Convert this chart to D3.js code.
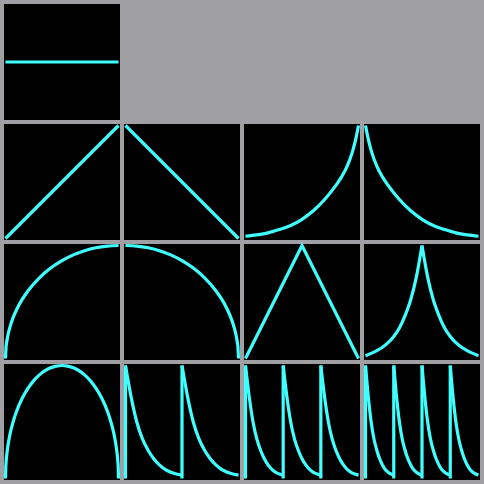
<!DOCTYPE html>
<html>
<head>
<meta charset="utf-8">
<script src="https://cdn.jsdelivr.net/npm/d3@7"></script>
<style>
  html, body { margin: 0; padding: 0; background: #a0a0a4; }
  svg { display: block; }
</style>
</head>
<body>
<script>
// ---- data (x in [0,1], y in [0,1]) ----
const constLevel = [0.5, 0.5];
const rampUp = [0, 1];
const rampDown = [1, 0];
const triangle = [0, 1, 0];
// exponential decay: sample positions and values
const decayT = [0, 0.02, 0.05, 0.1, 0.15, 0.2, 0.3, 0.4, 0.5, 0.6, 0.7, 0.8, 0.9, 1];
const decayV = [1, 0.90, 0.78, 0.64, 0.545, 0.47, 0.345, 0.245, 0.17, 0.115, 0.08, 0.05, 0.032, 0.02];
// two-sided peak, one half, from centre outward, t = 0 .. 1 step 0.1
const peakCurve = [1, 0.72, 0.52, 0.38, 0.27, 0.195, 0.14, 0.10, 0.07, 0.045, 0.025];
// sawtooth tooth decay, t = 0 .. 1 step 0.1
const toothCurve = [1, 0.72, 0.50, 0.35, 0.25, 0.175, 0.12, 0.08, 0.055, 0.04, 0.03];
// rising quarter arc: sample positions and values
const arcX = [0, 0.005, 0.01, 0.02, 0.04, 0.07, 0.1, 0.15, 0.2, 0.3, 0.4, 0.5, 0.6, 0.7, 0.8, 0.9, 1];
const arcV = [0, 0.1, 0.141, 0.199, 0.28, 0.368, 0.436, 0.527, 0.6, 0.714, 0.8, 0.866, 0.917, 0.954, 0.98, 0.995, 1];
const teethCounts = [2, 3, 4];

// ---- layout ----
const W = 484, H = 484, pitch = 120, cell = 116, border = 4, inset = 1.5;
const bg = "#a0a0a4", fg = "#40ffff";

const svg = d3.select("body").append("svg").attr("width", W).attr("height", H);
svg.append("rect").attr("width", W).attr("height", H).attr("fill", bg);

const pts = (arr, x0 = 0, x1 = 1) => arr.map((v, i) => [x0 + (x1 - x0) * i / (arr.length - 1), v]);
const ptsXY = (xs, vs, x0 = 0, x1 = 1) => xs.map((t, i) => [x0 + (x1 - x0) * t, vs[i]]);
const mirror = (p, x0, x1) => p.map(([px, v]) => [x0 + x1 - px, v]).reverse();

const cells = [
  {r: 0, c: 0, kind: "const"},
  {r: 1, c: 0, kind: "rampUp"},
  {r: 1, c: 1, kind: "rampDown"},
  {r: 1, c: 2, kind: "rise"},
  {r: 1, c: 3, kind: "decay"},
  {r: 2, c: 0, kind: "arcUp"},
  {r: 2, c: 1, kind: "arcDown"},
  {r: 2, c: 2, kind: "triangle"},
  {r: 2, c: 3, kind: "peak"},
  {r: 3, c: 0, kind: "semi"},
  {r: 3, c: 1, kind: "saw", n: teethCounts[0]},
  {r: 3, c: 2, kind: "saw", n: teethCounts[1]},
  {r: 3, c: 3, kind: "saw", n: teethCounts[2]},
];

cells.forEach(d => {
  const x0 = border + pitch * d.c, y0 = border + pitch * d.r;
  const g = svg.append("g");
  g.append("rect").attr("x", x0).attr("y", y0).attr("width", cell).attr("height", cell).attr("fill", "#000");
  const x = d3.scaleLinear().domain([0, 1]).range([x0 + inset, x0 + cell - inset]);
  const y = d3.scaleLinear().domain([0, 1]).range([y0 + cell - inset, y0 + inset]);
  const lin = d3.line().x(p => x(p[0])).y(p => y(p[1]));
  const smooth = d3.line().x(p => x(p[0])).y(p => y(p[1])).curve(d3.curveMonotoneX);
  const draw = (gen, data) => g.append("path").attr("d", gen(data))
      .attr("fill", "none").attr("stroke", fg).attr("stroke-width", 3.2)
      .attr("stroke-linejoin", "miter").attr("stroke-linecap", "butt");
  const decayPts = ptsXY(decayT, decayV);
  const arcPts = ptsXY(arcX, arcV);
  switch (d.kind) {
    case "const": draw(lin, pts(constLevel)); break;
    case "rampUp": draw(lin, pts(rampUp)); break;
    case "rampDown": draw(lin, pts(rampDown)); break;
    case "triangle": draw(lin, pts(triangle)); break;
    case "rise": draw(smooth, mirror(decayPts, 0, 1)); break;
    case "decay": draw(smooth, decayPts); break;
    case "peak": {
      const right = pts(peakCurve, 0.5, 1);
      draw(smooth, mirror(right, 0, 1));
      draw(smooth, right);
      break;
    }
    case "arcUp": draw(smooth, arcPts); break;
    case "arcDown": draw(smooth, mirror(arcPts, 0, 1)); break;
    case "semi": {
      const left = ptsXY(arcX, arcV, 0, 0.5);
      draw(smooth, left.concat(mirror(left, 0, 1).slice(1)));
      break;
    }
    case "saw":
      for (let k = 0; k < d.n; k++) {
        const a = k / d.n, b = (k + 1) / d.n;
        draw(lin, [[a, 0], [a, 1]]);
        draw(smooth, pts(toothCurve, a, b));
      }
      break;
  }
});
</script>
</body>
</html>
